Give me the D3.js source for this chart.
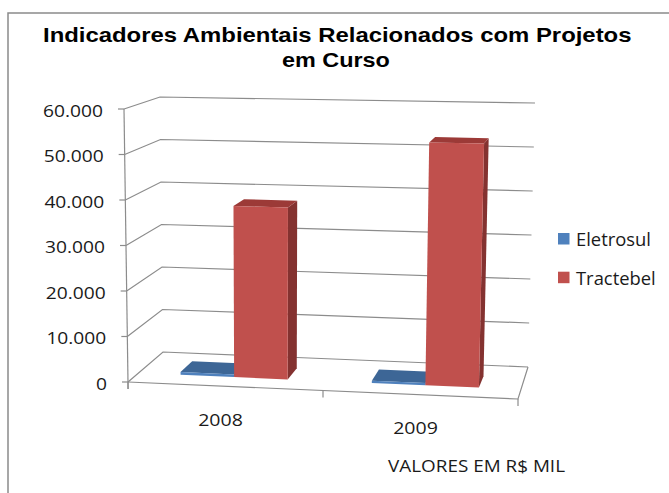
<!DOCTYPE html>
<html>
<head>
<meta charset="utf-8">
<script src="https://cdn.jsdelivr.net/npm/d3@7/dist/d3.min.js"></script>
<style>
  html, body { margin: 0; padding: 0; background: #ffffff; }
  svg { display: block; }
</style>
</head>
<body>
<svg id="chart" width="669" height="493"></svg>
<script>
// ---------------- data ----------------
const categories = ['2008', '2009'];
const seriesNames = ['Eletrosul', 'Tractebel'];
const eletrosulValues = [600, 500];
const tractebelValues = [38000, 53000];
const yTickValues = [0, 10000, 20000, 30000, 40000, 50000, 60000];
const titleLines = ['Indicadores Ambientais Relacionados com Projetos', 'em Curso'];
const axisTitle = 'VALORES EM R$ MIL';

// ---------------- setup ----------------
const svg = d3.select('#chart');
const W = 669, H = 493;
svg.append('rect').attr('width', W).attr('height', H).attr('fill', '#fff');

// chart outer border
svg.append('rect')
  .attr('x', 8).attr('y', 13).attr('width', 720).attr('height', 600)
  .attr('fill', 'none').attr('stroke', '#8a8a8a').attr('stroke-width', 1.5);

// 3D box corners on screen (front/back, left/right, bottom/top)
const FLB = [128, 382], FRB = [518, 399], BLB = [163, 352], BRB = [528, 367];
const FLT = [124, 109], FRT = [525, 116], BLT = [160, 97], BRT = [535, 103];
const lerp = (a, b, t) => [a[0] + (b[0] - a[0]) * t, a[1] + (b[1] - a[1]) * t];
// u: 0..1 left->right, v: 0..1 bottom->top, w: 0 front .. 1 back
function proj(u, v, w) {
  const fb = lerp(FLB, FRB, u), bb = lerp(BLB, BRB, u);
  const ft = lerp(FLT, FRT, u), bt = lerp(BLT, BRT, u);
  return lerp(lerp(fb, bb, w), lerp(ft, bt, w), v);
}

// scales
const y = d3.scaleLinear().domain([0, 60000]).range([0, 1]);
const x0 = d3.scaleBand().domain(categories).range([0, 1]).padding(0);
const bw = x0.bandwidth();
const x1 = d3.scaleBand().domain(seriesNames).range([0.22 * bw, 0.78 * bw]).padding(0);
const wFront = 0.3, wBack = 0.66;

const locale = d3.formatLocale({ decimal: ',', thousands: '.', grouping: [3], currency: ['R$', ''] });
const fmt = locale.format(',.0f');

const gridColor = '#8c8c8c';
const line = d3.line();

// ---------------- walls / gridlines ----------------
const grid = svg.append('g').attr('fill', 'none').attr('stroke', gridColor).attr('stroke-width', 1.2);
yTickValues.forEach(t => {
  const v = y(t);
  grid.append('path').attr('d', line([proj(0, v, 0), proj(0, v, 1), proj(1, v, 1)]));
});
// floor front and right edges
grid.append('path').attr('d', line([proj(0, 0, 0), proj(1, 0, 0), proj(1, 0, 1)]));
// vertical value axis (front-left edge) incl. small extension below floor
{
  const b = proj(0, 0, 0), t = proj(0, 1, 0);
  grid.append('path').attr('d', line([t, [b[0] + 0.1, b[1] + 7]]));
}
// value ticks
yTickValues.forEach(t => {
  const p = proj(0, y(t), 0);
  grid.append('path').attr('d', line([[p[0] - 6, p[1]], p]));
});
// category ticks on front edge
[0, 0.5, 1].forEach(u => {
  const p = proj(u, 0, 0);
  grid.append('path').attr('d', line([p, [p[0], p[1] + 7]]));
});

// ---------------- bars ----------------
const seriesData = [
  { name: 'Eletrosul', values: eletrosulValues, front: '#4f81bd', top: '#3d6696', side: '#2f5280' },
  { name: 'Tractebel', values: tractebelValues, front: '#c0504d', top: '#9c3a37', side: '#843230' }
];
const bars = svg.append('g');
categories.forEach((cat, ci) => {
  seriesData.forEach(s => {
    const u0 = x0(cat) + x1(s.name), u1 = u0 + x1.bandwidth();
    const vv = y(s.values[ci]);
    const poly = pts => pts.map(p => p.join(',')).join(' ');
    bars.append('polygon')
      .attr('points', poly([proj(u1, 0, wFront), proj(u1, 0, wBack), proj(u1, vv, wBack), proj(u1, vv, wFront)]))
      .attr('fill', s.side);
    bars.append('polygon')
      .attr('points', poly([proj(u0, vv, wFront), proj(u1, vv, wFront), proj(u1, vv, wBack), proj(u0, vv, wBack)]))
      .attr('fill', s.top);
    bars.append('polygon')
      .attr('points', poly([proj(u0, 0, wFront), proj(u1, 0, wFront), proj(u1, vv, wFront), proj(u0, vv, wFront)]))
      .attr('fill', s.front);
  });
});

// ---------------- text helpers ----------------
// Draw text, horizontally scaled by a transform so that it has a given width
// (or natural width * factor), anchored at x by 'start' | 'middle' | 'end'.
function placeText(parent, str, x, yy, anchor, opts, factor, targetW) {
  const g = parent.append('g');
  const tx = g.append('text')
    .attr('x', 0).attr('y', 0)
    .attr('font-family', opts.family).attr('font-size', opts.size)
    .attr('font-weight', opts.weight || 'normal').attr('fill', opts.fill || '#1a1a1a')
    .attr('text-anchor', 'start')
    .text(str);
  const nat = tx.node().getComputedTextLength();
  const w = targetW != null ? targetW : nat * (factor || 1);
  const k = w / nat;
  const sx = anchor === 'middle' ? x - w / 2 : anchor === 'end' ? x - w : x;
  g.attr('transform', `translate(${sx},${yy}) scale(${k},1)`);
  return tx;
}
const bodyFont = "'Open Sans', 'DejaVu Sans', sans-serif";
const body16 = { family: bodyFont, size: 16 };

// value axis labels
yTickValues.forEach(t => {
  const p = proj(0, y(t), 0);
  placeText(svg, fmt(t), p[0] - 21, p[1] + 7.5, 'end', body16, 1.2);
});

// category labels
categories.forEach(cat => {
  const p = proj(x0(cat) + bw / 2, 0, 0);
  placeText(svg, cat, p[0] - 5, p[1] + 39.5, 'middle', { family: bodyFont, size: 17 }, 1.15);
});

// axis title
placeText(svg, axisTitle, 476.5, 472, 'middle', body16, null, 177);

// chart title
const titleFont = { family: "'Liberation Sans', Arial, sans-serif", size: 19.5, weight: 'bold', fill: '#000' };
placeText(svg, titleLines[0], 337.5, 42, 'middle', titleFont, null, 589);
placeText(svg, titleLines[1], 336, 67, 'middle', titleFont, null, 108);

// legend
const legend = svg.append('g');
seriesData.forEach((s, i) => {
  const yy = 233 + i * 38.7;
  legend.append('rect').attr('x', 558).attr('y', yy).attr('width', 11.5).attr('height', 11.5).attr('fill', s.front);
  placeText(legend, s.name, 576, yy + 13, 'start', { family: bodyFont, size: 17.5 }, 1.05);
});
</script>
</body>
</html>
